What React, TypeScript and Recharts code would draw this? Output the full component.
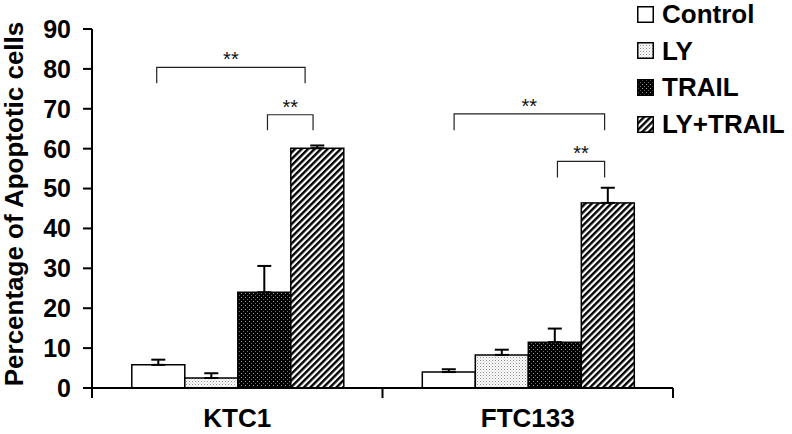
import React from 'react';
import { BarChart, Bar, XAxis, YAxis, ErrorBar, Label } from 'recharts';

const categories = ['KTC1', 'FTC133'];
const seriesNames = ['Control', 'LY', 'TRAIL', 'LY+TRAIL'];
const controlValues = [5.8, 4.0];
const lyValues = [2.5, 8.3];
const trailValues = [24.0, 11.5];
const lyTrailValues = [60.1, 46.4];
const controlErrors = [1.3, 0.7];
const lyErrors = [1.2, 1.3];
const trailErrors = [6.6, 3.4];
const lyTrailErrors = [0.7, 3.8];
const yTicks = [0, 10, 20, 30, 40, 50, 60, 70, 80, 90];
const yAxisTitle = 'Percentage of Apoptotic cells';

// significance brackets: from/to = series index, level/drop in data units
const brackets = [
  { category: 'KTC1', from: 0, to: 3, level: 80.4, drop: 4.0, fromFrac: 0.47, toFrac: 0.27, label: '**' },
  { category: 'KTC1', from: 2, to: 3, level: 68.5, drop: 3.9, fromFrac: 0.56, toFrac: 0.42, label: '**' },
  { category: 'FTC133', from: 0, to: 3, level: 68.7, drop: 4.1, fromFrac: 0.6, toFrac: 0.44, label: '**' },
  { category: 'FTC133', from: 2, to: 3, level: 56.8, drop: 4.0, fromFrac: 0.55, toFrac: 0.44, label: '**' },
];

const data = categories.map((name, i) => ({
  name,
  control: controlValues[i],
  ly: lyValues[i],
  trail: trailValues[i],
  lyTrail: lyTrailValues[i],
  controlErr: [0, controlErrors[i]],
  lyErr: [0, lyErrors[i]],
  trailErr: [0, trailErrors[i]],
  lyTrailErr: [0, lyTrailErrors[i]],
}));

const FONT = '"Liberation Sans", Arial, Helvetica, sans-serif';
const W = 792;
const H = 434;
const MARGIN = { top: 29, right: 119, bottom: 0, left: 0 };
const Y_AXIS_W = 92;
const PLOT_W = W - MARGIN.left - MARGIN.right - Y_AXIS_W;
const X_TICK_MARGIN = 21;

const fills = ['#ffffff', 'url(#pDots)', 'url(#pDark)', 'url(#pHatch)'];

const Patterns = () => (
  <svg width={0} height={0} style={{ position: 'absolute' }}>
    <defs>
      <pattern id="pDots" width={3} height={3} patternUnits="userSpaceOnUse">
        <rect width={3} height={3} fill="#ffffff" />
        <rect x={0} y={0} width={1} height={1} fill="#8a8a8a" />
        <rect x={1.5} y={1.5} width={1} height={1} fill="#b0b0b0" />
      </pattern>
      <pattern id="pDark" width={4} height={4} patternUnits="userSpaceOnUse">
        <rect width={4} height={4} fill="#000000" />
        <rect x={1} y={1} width={1} height={1} fill="#9a9a9a" />
        <rect x={3} y={3} width={1} height={1} fill="#6a6a6a" />
      </pattern>
      <pattern id="pHatch" width={4.6} height={4.6} patternUnits="userSpaceOnUse" patternTransform="rotate(45)">
        <rect width={4.6} height={4.6} fill="#ffffff" />
        <rect x={0} y={0} width={2.4} height={4.6} fill="#000000" />
      </pattern>
    </defs>
  </svg>
);

const HatchWithBrackets = (props: any) => {
  const { x, y, width, height, payload } = props;
  const value = payload.lyTrail;
  const k = height / value;
  const base = y + height;
  const items = brackets.filter((b) => b.category === payload.name);
  return (
    <g>
      <rect x={x} y={y} width={width} height={height} fill={fills[3]} stroke="#000" strokeWidth={1.5} />
      {items.map((b, j) => {
        const x1 = x - (3 - b.from) * width + b.fromFrac * width;
        const x2 = x - (3 - b.to) * width + b.toFrac * width;
        const yl = base - b.level * k;
        const yd = base - (b.level - b.drop) * k;
        return (
          <g key={j}>
            <polyline
              points={`${x1},${yd} ${x1},${yl} ${x2},${yl} ${x2},${yd}`}
              fill="none"
              stroke="#222"
              strokeWidth={1.2}
            />
            <text x={(x1 + x2) / 2} y={yl - 1} textAnchor="middle" fontSize={20} fontFamily={FONT} fill="#111">
              {b.label}
            </text>
          </g>
        );
      })}
    </g>
  );
};

const CategoryTick = (props: any) => {
  const { x, y, payload, index, visibleTicksCount } = props;
  const half = payload && typeof payload.offset === 'number' && payload.offset > 0 ? payload.offset : PLOT_W / (2 * categories.length);
  const axisY = y - X_TICK_MARGIN;
  const last = index === (visibleTicksCount ?? categories.length) - 1;
  return (
    <g>
      <line x1={x - half} y1={axisY} x2={x - half} y2={axisY + 10} stroke="#000" strokeWidth={2} />
      {last && <line x1={x + half} y1={axisY} x2={x + half} y2={axisY + 10} stroke="#000" strokeWidth={2} />}
      <text x={x} y={y} dy="0.71em" textAnchor="middle" fontSize={26} fontWeight="bold" fontFamily={FONT} fill="#000">
        {payload.value}
      </text>
    </g>
  );
};

const LegendBox = () => (
  <div style={{ position: 'absolute', left: 637, top: 0, width: 155, height: 145, fontFamily: FONT }}>
    {seriesNames.map((n, i) => (
      <div
        key={n}
        style={{
          position: 'absolute',
          left: 0,
          top: 14 + i * 36.7 - 15,
          height: 30,
          display: 'flex',
          alignItems: 'center',
          whiteSpace: 'nowrap',
        }}
      >
        <svg width={17} height={17} style={{ display: 'block' }}>
          <rect x={0.75} y={0.75} width={15.5} height={15.5} fill={fills[i]} stroke="#000" strokeWidth={1.5} />
        </svg>
        <span style={{ marginLeft: 8, fontSize: 26, fontWeight: 'bold', color: '#000', lineHeight: '30px' }}>{n}</span>
      </div>
    ))}
  </div>
);

export default function App() {
  return (
    <div style={{ position: 'absolute', left: 0, top: 0, width: W, height: H, background: '#fff' }}>
      <Patterns />
      <BarChart
        width={W}
        height={H}
        data={data}
        margin={MARGIN}
        barCategoryGap="13.7%"
        barGap={0}
      >
        <XAxis
          dataKey="name"
          height={46}
          axisLine={{ stroke: '#000', strokeWidth: 2 }}
          tickLine={false}
          tickSize={0}
          tickMargin={X_TICK_MARGIN}
          tick={<CategoryTick />}
          interval={0}
        />
        <YAxis
          width={Y_AXIS_W}
          domain={[0, 90]}
          ticks={yTicks}
          interval={0}
          axisLine={{ stroke: '#000', strokeWidth: 2 }}
          tickLine={{ stroke: '#000', strokeWidth: 2 }}
          tickSize={9}
          tickMargin={12}
          tick={{ fontSize: 25, fontWeight: 'bold', fill: '#000', fontFamily: FONT }}
        >
          <Label
            content={() => (
              <text
                x={23}
                y={204}
                transform="rotate(-90, 23, 204)"
                textAnchor="middle"
                fontSize={26}
                fontWeight="bold"
                fontFamily={FONT}
                fill="#000"
              >
                {yAxisTitle}
              </text>
            )}
          />
        </YAxis>
        <Bar dataKey="control" name={seriesNames[0]} fill={fills[0]} stroke="#000" strokeWidth={1.5} isAnimationActive={false}>
          <ErrorBar dataKey="controlErr" direction="y" width={7} stroke="#000" strokeWidth={2} />
        </Bar>
        <Bar dataKey="ly" name={seriesNames[1]} fill={fills[1]} stroke="#000" strokeWidth={1.5} isAnimationActive={false}>
          <ErrorBar dataKey="lyErr" direction="y" width={7} stroke="#000" strokeWidth={2} />
        </Bar>
        <Bar dataKey="trail" name={seriesNames[2]} fill={fills[2]} stroke="#000" strokeWidth={1.5} isAnimationActive={false}>
          <ErrorBar dataKey="trailErr" direction="y" width={7} stroke="#000" strokeWidth={2} />
        </Bar>
        <Bar dataKey="lyTrail" name={seriesNames[3]} fill={fills[3]} stroke="#000" strokeWidth={1.5} shape={<HatchWithBrackets />} isAnimationActive={false}>
          <ErrorBar dataKey="lyTrailErr" direction="y" width={7} stroke="#000" strokeWidth={2} />
        </Bar>
      </BarChart>
      <LegendBox />
    </div>
  );
}
